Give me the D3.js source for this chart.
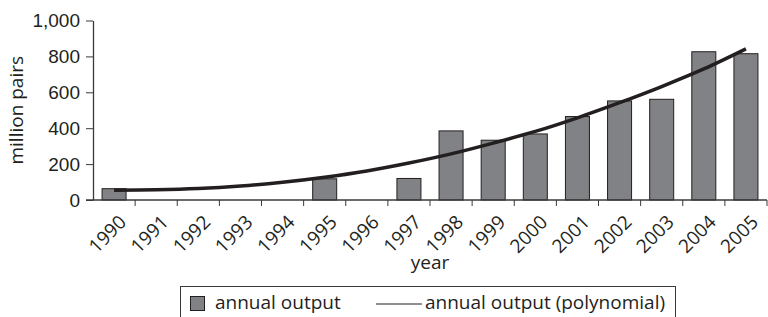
<!DOCTYPE html>
<html>
<head>
<meta charset="utf-8">
<script src="https://cdn.jsdelivr.net/npm/d3@7"></script>
<style>
  body { margin: 0; background: #fff; }
  svg { display: block; font-family: "Open Sans", sans-serif; }
  .axis path, .axis line { stroke: #3a3a3a; }
  .axis text { fill: #231f20; font-size: 19px; }
</style>
</head>
<body>
<script>
// data
let years = ['1990','1991','1992','1993','1994','1995','1996','1997',
             '1998','1999','2000','2001','2002','2003','2004','2005'];
let output = [63, null, null, null, null, 118, null, 120,
              385, 333, 368, 465, 552, 561, 826, 815];
let trend = [55, 57, 64, 78, 99, 127, 162, 206, 257, 317, 382, 458, 542, 632, 730, 842];
let yTicks = [0, 200, 400, 600, 800, 1000];

let width = 768, height = 317,
    margins = {top: 20.5, right: 1, left: 93, bottom: 117},
    fontSize = '19px';

let svg = d3.select('body').append('svg')
    .attr('width', width)
    .attr('height', height);

let x = d3.scaleBand()
    .domain(years)
    .range([margins.left, width - margins.right])
    .paddingInner(0.43).paddingOuter(0.215);
let xb = d3.scaleBand().domain(years).range([margins.left, width - margins.right]);

let y = d3.scaleLinear()
    .domain([0, 1000])
    .range([height - margins.bottom, margins.top]);

// y axis
let yAxis = svg.append('g').classed('axis', true)
    .attr('transform', `translate(${margins.left},0)`)
    .call(d3.axisLeft(y).tickValues(yTicks).tickSize(7).tickSizeOuter(0).tickPadding(6).tickFormat(d3.format(',')));
yAxis.select('.domain').attr('stroke-width', 1.3);

// bars
svg.append('g').selectAll('rect')
    .data(years.map((d, i) => ({year: d, value: output[i]})).filter(d => d.value != null))
    .enter().append('rect')
    .attr('x', d => x(d.year))
    .attr('width', x.bandwidth())
    .attr('y', d => y(d.value))
    .attr('height', d => y(0) - y(d.value))
    .attr('fill', '#818285')
    .attr('stroke', '#231f20')
    .attr('stroke-width', 1);

// x axis: ticks at category boundaries
let xg = svg.append('g').classed('axis', true)
    .attr('transform', `translate(0,${y(0)})`);
xg.append('line')
    .attr('x1', margins.left - 7).attr('x2', width - margins.right)
    .attr('stroke', '#3a3a3a').attr('stroke-width', 1.3);
xg.selectAll('line.tick')
    .data(years.slice(1).concat(['end']))
    .enter().append('line').classed('tick', true)
    .attr('x1', (d, i) => margins.left + (i + 1) * xb.step())
    .attr('x2', (d, i) => margins.left + (i + 1) * xb.step())
    .attr('y1', 0).attr('y2', 6)
    .attr('stroke', '#3a3a3a');
xg.selectAll('text')
    .data(years)
    .enter().append('text')
    .attr('transform', d => `translate(${xb(d) + xb.bandwidth() / 2 + 4},14) rotate(-45)`)
    .attr('text-anchor', 'end')
    .attr('dy', '0.7em')
    .attr('fill', '#231f20')
    .style('font-size', fontSize)
    .text(d => d);

// trend line
svg.append('path')
    .datum(trend)
    .attr('fill', 'none')
    .attr('stroke', '#231f20')
    .attr('stroke-width', 3.5)
    .attr('d', d3.line()
        .x((d, i) => xb(years[i]) + xb.bandwidth() / 2)
        .y(d => y(d))
        .curve(d3.curveCatmullRom));

// axis titles
svg.append('text')
    .attr('transform', `translate(23,${(y(0) + y(1000)) / 2}) rotate(-90)`)
    .attr('text-anchor', 'middle')
    .attr('fill', '#231f20')
    .style('font-size', fontSize)
    .text('million pairs');
svg.append('text')
    .attr('x', (margins.left + width - margins.right) / 2)
    .attr('y', 269)
    .attr('text-anchor', 'middle')
    .attr('fill', '#231f20')
    .style('font-size', fontSize)
    .text('year');

// legend
let legend = svg.append('g');
legend.append('rect')
    .attr('x', 180.5).attr('y', 286.5)
    .attr('width', 495).attr('height', 40)
    .attr('fill', 'none').attr('stroke', '#3a3a3a').attr('stroke-width', 1);
legend.append('rect')
    .attr('x', 190.5).attr('y', 296.5)
    .attr('width', 14).attr('height', 14)
    .attr('fill', '#818285').attr('stroke', '#231f20');
legend.append('text')
    .attr('x', 215).attr('y', 309)
    .attr('fill', '#231f20').style('font-size', fontSize)
    .text('annual output');
legend.append('line')
    .attr('x1', 376).attr('x2', 422).attr('y1', 304).attr('y2', 304)
    .attr('stroke', '#231f20').attr('stroke-width', 1);
legend.append('text')
    .attr('x', 425).attr('y', 309)
    .attr('fill', '#231f20').style('font-size', fontSize)
    .text('annual output (polynomial)');
</script>
</body>
</html>
